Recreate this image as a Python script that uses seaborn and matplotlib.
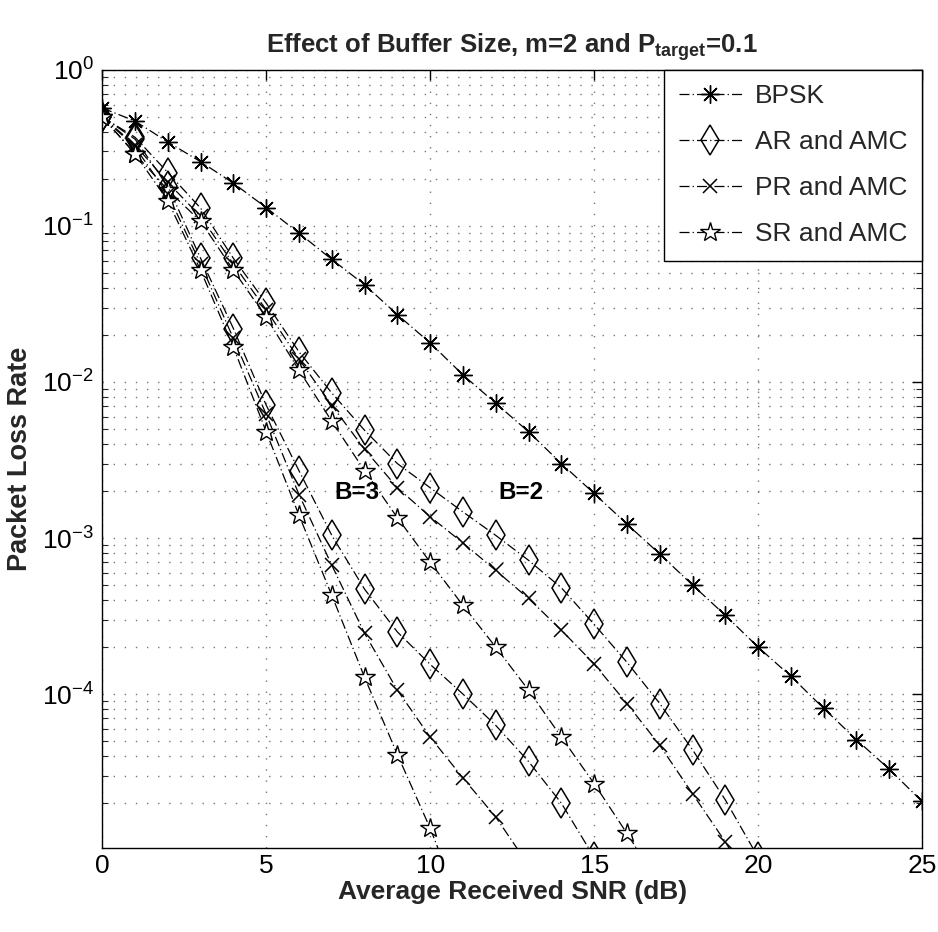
import numpy as np
import pandas as pd
import matplotlib
matplotlib.use("Agg")
import matplotlib.pyplot as plt
import seaborn as sns
from matplotlib.ticker import LogLocator, FixedLocator, NullFormatter

# ---------------- data ----------------
snr_bpsk = list(range(0, 26))
bpsk = [0.57, 0.47, 0.345, 0.258, 0.188, 0.131, 0.090, 0.061, 0.042, 0.027,
        0.0178, 0.0111, 0.0073, 0.0048, 0.0030, 0.00193, 0.00123, 0.00079,
        0.00050, 0.00032, 0.000200, 0.000130, 8.1e-5, 5.1e-5, 3.3e-5, 2.05e-5]

snr_ar2 = list(range(0, 21))
ar_b2 = [0.5, 0.37, 0.22, 0.13, 0.062, 0.032, 0.0156, 0.0085, 0.0049, 0.0030,
         0.0021, 0.00147, 0.00104, 0.00072, 0.00048, 0.00028, 0.00016, 8.7e-5,
         4.4e-5, 2.1e-5, 9e-6]
snr_pr2 = list(range(0, 21))
pr_b2 = [0.5, 0.33, 0.19, 0.115, 0.057, 0.029, 0.014, 0.0071, 0.0037, 0.0021,
         0.00137, 0.00093, 0.00062, 0.00041, 0.000257, 0.000156, 8.7e-5, 4.7e-5,
         2.3e-5, 1.13e-5, 5e-6]
snr_sr2 = list(range(0, 18))
sr_b2 = [0.5, 0.29, 0.17, 0.107, 0.052, 0.026, 0.0119, 0.0056, 0.0027, 0.00135,
         0.00070, 0.00037, 0.00020, 0.000106, 5.3e-5, 2.67e-5, 1.28e-5, 6e-6]

snr_ar3 = list(range(0, 16))
ar_b3 = [0.5, 0.36, 0.18, 0.062, 0.022, 0.0071, 0.0027, 0.00104, 0.00047,
         0.00025, 0.000155, 0.000100, 6.3e-5, 3.7e-5, 2.0e-5, 9e-6]
snr_pr3 = list(range(0, 14))
pr_b3 = [0.5, 0.32, 0.16, 0.057, 0.019, 0.0062, 0.0019, 0.00067, 0.000245,
         0.000106, 5.3e-5, 2.9e-5, 1.63e-5, 8e-6]
snr_sr3 = list(range(0, 12))
sr_b3 = [0.5, 0.29, 0.145, 0.052, 0.0167, 0.0048, 0.0014, 0.00043, 0.000128,
         4.1e-5, 1.38e-5, 4e-6]

legend_labels = ["BPSK", "AR and AMC", "PR and AMC", "SR and AMC"]
x_ticks = [0, 5, 10, 15, 20, 25]
title_text = "Effect of Buffer Size, m=2 and P$_{target}$=0.1"
xlabel_text = "Average Received SNR (dB)"
ylabel_text = "Packet Loss Rate"
annot_b3 = ("B=3", 7.78, 0.00197)
annot_b2 = ("B=2", 12.77, 0.00197)

# ---------------- style ----------------
sns.set_theme(style="white")
plt.rcParams["font.family"] = ["Liberation Sans Narrow", "Liberation Sans", "DejaVu Sans"]
plt.rcParams["mathtext.default"] = "regular"
plt.rcParams["xtick.direction"] = "in"
plt.rcParams["ytick.direction"] = "in"

fig = plt.figure(figsize=(9.38, 9.32), dpi=100)
ax = fig.add_axes([0.109, 0.090, 0.874, 0.835])

dash = (0, (8, 2.5, 1, 2.5))
ASTER = (8, 2, 0)
# (x, y, marker, size, facecolor, edgewidth, legend label)
series = [
    (snr_bpsk, bpsk, ASTER, 13, "black", 1.0, "BPSK"),
    (snr_ar2, ar_b2, "d", 15, "none", 1.1, "AR and AMC"),
    (snr_pr2, pr_b2, "x", 10, "none", 1.1, "PR and AMC"),
    (snr_sr2, sr_b2, "*", 15, "white", 1.0, "SR and AMC"),
    (snr_ar3, ar_b3, "d", 15, "none", 1.1, None),
    (snr_pr3, pr_b3, "x", 10, "none", 1.1, None),
    (snr_sr3, sr_b3, "*", 15, "white", 1.0, None),
]

handles = []
for xs, ys, mk, ms, fc, mew, lab in series:
    df = pd.DataFrame({"snr": xs, "plr": ys})
    sns.lineplot(data=df, x="snr", y="plr", ax=ax, linestyle=dash,
                 legend=False, marker=mk, markersize=ms, color="black",
                 linewidth=0.9, markeredgewidth=mew, markeredgecolor="black",
                 markerfacecolor=fc)
    line = ax.lines[-1]
    if lab is not None:
        line.set_label(lab)
        handles.append(line)

ax.set_yscale("log")
ax.set_xlim(0, 25)
ax.set_ylim(1.03e-5, 1.0)
ax.xaxis.set_major_locator(FixedLocator(x_ticks))
ax.yaxis.set_major_locator(LogLocator(base=10, numticks=10))
ax.yaxis.set_minor_locator(LogLocator(base=10, subs=np.arange(2, 10), numticks=20))
ax.yaxis.set_minor_formatter(NullFormatter())

ax.grid(True, which="major", axis="both", color="#777777",
        linestyle=(0, (1, 7)), linewidth=1.0)
ax.grid(True, which="minor", axis="y", color="#777777",
        linestyle=(0, (1, 7)), linewidth=1.0)

ax.tick_params(axis="both", which="major", labelsize=19, length=7, width=1,
               top=True, right=True, colors="black", pad=6)
ax.tick_params(axis="x", which="major", pad=4)
ax.tick_params(axis="y", which="minor", length=4, width=0.8, left=True,
               right=True)
for s in ax.spines.values():
    s.set_color("black")
    s.set_linewidth(1.0)

ax.set_title(title_text, fontsize=18.5, fontweight="bold", pad=12)
ax.set_xlabel(xlabel_text, fontsize=19, fontweight="bold", labelpad=2)
ax.set_ylabel(ylabel_text, fontsize=19.5, fontweight="bold",
              family=["Liberation Sans", "DejaVu Sans"], labelpad=6)

for txt, xv, yv in (annot_b3, annot_b2):
    ax.text(xv, yv, txt, fontsize=17.5, fontweight="bold", ha="center",
            va="center", color="black")

leg = ax.legend(handles=handles, labels=legend_labels, loc="upper right",
                bbox_to_anchor=(1.0, 1.0), fontsize=19, frameon=True,
                fancybox=False, framealpha=1, edgecolor="black",
                borderaxespad=0, handlelength=2.4, labelspacing=0.83,
                borderpad=0.55, handletextpad=0.5)
leg.get_frame().set_linewidth(1.0)

fig.savefig("out.png", dpi=100)
